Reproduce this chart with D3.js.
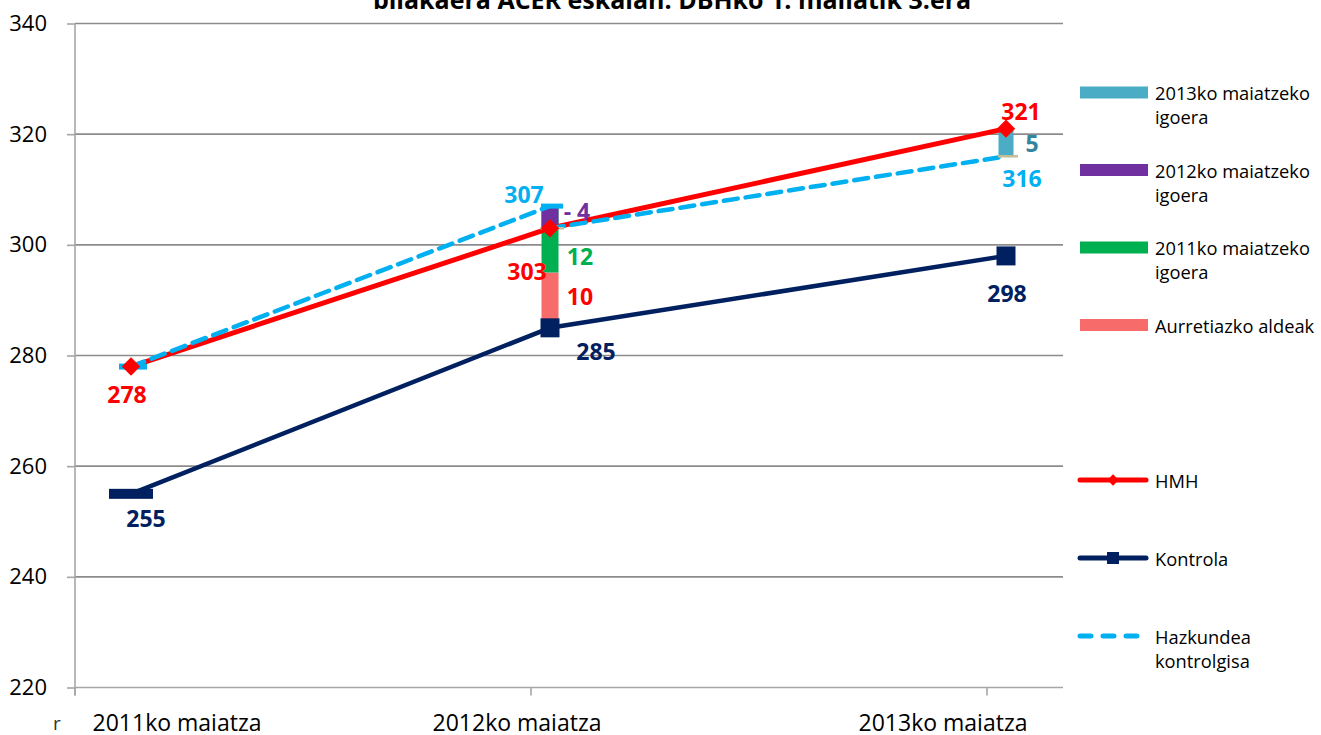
<!DOCTYPE html>
<html>
<head>
<meta charset="utf-8">
<script src="https://cdn.jsdelivr.net/npm/d3@7"></script>
<style>
  html, body { margin: 0; padding: 0; background: #fff; }
  svg { display: block; font-family: "Open Sans", "Liberation Sans", sans-serif; }
</style>
</head>
<body>
<svg id="chart" width="1321" height="735"></svg>
<script>
// categories and series
const categories = ["2011ko maiatza", "2012ko maiatza", "2013ko maiatza"];
const hmh = [278, 303, 321];
const kontrola = [255, 285, 298];
// control-like growth: two dashed pieces (from, to)
const growthFrom = [278, 303];
const growthTo = [307, 316];
// stacked increments
const aurretiazko = [null, 10, null];
const igoera2011 = [null, 12, null];
const igoera2012 = [null, -4, null];
const igoera2013 = [null, null, 5];
const yTicks = [220, 240, 260, 280, 300, 320, 340];

const titleText = "bilakaera ACER eskalan: DBHko 1. mailatik 3.era";

const colors = {
  hmh: "#FF0000",
  kontrola: "#002060",
  growth: "#00B0F0",
  aurretiazko: "#F86B6B",
  i2011: "#00B050",
  i2012: "#7030A0",
  i2013: "#4BACC6",
  i2013Label: "#31859C",
  grid: "#8C8C8C",
  axis: "#A6A6A6"
};

const svg = d3.select("#chart");
const plot = { left: 75, right: 1063, top: 23.5, bottom: 687.5 };

const y = d3.scaleLinear().domain([220, 340]).range([plot.bottom, plot.top]);
const xBand = d3.scaleBand().domain(categories).range([plot.left, plot.left + 456 * 3]);
const xMark = d3.scaleOrdinal().domain(categories).range([131, 550, 1006]);
const xLabel = d3.scaleOrdinal().domain(categories).range([177, 517, 943]);

// title (its upper part is cut off in the original)
svg.append("text")
  .attr("x", 672)
  .attr("y", 9)
  .attr("text-anchor", "middle")
  .attr("font-size", 25)
  .attr("font-weight", 700)
  .text(titleText);

// gridlines
svg.append("g")
  .selectAll("line")
  .data(yTicks.filter((d) => d > 220))
  .join("line")
  .attr("x1", plot.left)
  .attr("x2", plot.right)
  .attr("y1", (d) => y(d))
  .attr("y2", (d) => y(d))
  .attr("stroke", colors.grid)
  .attr("stroke-width", 1.6);

// y axis
svg.append("g")
  .attr("transform", `translate(${plot.left},0)`)
  .call(d3.axisLeft(y).tickValues(yTicks).tickSize(8).tickPadding(20))
  .call((g) => g.select(".domain").remove())
  .call((g) => g.selectAll("line").attr("stroke", colors.axis).attr("stroke-width", 1.6))
  .call((g) => g.selectAll("text").attr("font-size", 22).attr("fill", "#000")
    .attr("font-family", "'Open Sans', sans-serif"));

svg.append("line")
  .attr("x1", plot.left).attr("x2", plot.left)
  .attr("y1", plot.top).attr("y2", plot.bottom + 8)
  .attr("stroke", colors.axis).attr("stroke-width", 1.6);

// x axis line + boundary ticks
svg.append("line")
  .attr("x1", plot.left).attr("x2", plot.right)
  .attr("y1", plot.bottom).attr("y2", plot.bottom)
  .attr("stroke", colors.axis).attr("stroke-width", 1.6);

svg.append("g")
  .selectAll("line")
  .data(categories)
  .join("line")
  .attr("x1", (d) => xBand(d))
  .attr("x2", (d) => xBand(d))
  .attr("y1", plot.bottom)
  .attr("y2", plot.bottom + 8)
  .attr("stroke", colors.axis)
  .attr("stroke-width", 1.6);

svg.append("g")
  .selectAll("text")
  .data(categories)
  .join("text")
  .attr("x", (d) => xLabel(d))
  .attr("y", 731)
  .attr("text-anchor", "middle")
  .attr("font-size", 23)
  .attr("fill", "#000")
  .text((d) => d);

// stray glyph at bottom-left of the original
svg.append("text")
  .attr("x", 53)
  .attr("y", 730)
  .attr("font-size", 19)
  .attr("fill", "#333")
  .text("r");

// stacked bars
const barW = 17;
const stacks = [];
categories.forEach((c, i) => {
  if (aurretiazko[i] != null) {
    let base = kontrola[i];
    stacks.push({ c, from: base, to: base + aurretiazko[i], color: colors.aurretiazko });
    base += aurretiazko[i];
    stacks.push({ c, from: base, to: base + igoera2011[i], color: colors.i2011 });
    base += igoera2011[i];
    stacks.push({ c, from: base, to: base + igoera2012[i], color: colors.i2012 });
  }
  if (igoera2013[i] != null) {
    const base = growthTo[1];
    stacks.push({ c, from: base, to: base + igoera2013[i], color: colors.i2013, w: 15 });
  }
});

svg.append("g")
  .selectAll("rect")
  .data(stacks)
  .join("rect")
  .attr("x", (d) => xMark(d.c) - (d.w || barW) / 2)
  .attr("width", (d) => d.w || barW)
  .attr("y", (d) => y(Math.max(d.from, d.to)))
  .attr("height", (d) => Math.abs(y(d.from) - y(d.to)))
  .attr("fill", (d) => d.color);

// lines
const line = d3.line().x((d) => xMark(d.c)).y((d) => y(d.v));
const hmhPts = categories.map((c, i) => ({ c, v: hmh[i] }));
const konPts = categories.map((c, i) => ({ c, v: kontrola[i] }));

svg.append("path")
  .datum(hmhPts)
  .attr("d", line)
  .attr("fill", "none")
  .attr("stroke", colors.hmh)
  .attr("stroke-width", 5)
  .attr("stroke-linejoin", "round");

svg.append("path")
  .datum(konPts)
  .attr("d", line)
  .attr("fill", "none")
  .attr("stroke", colors.kontrola)
  .attr("stroke-width", 4.5)
  .attr("stroke-linejoin", "round");

const growthSegs = growthFrom.map((v, i) => [
  { c: categories[i], v },
  { c: categories[i + 1], v: growthTo[i] }
]);

svg.append("g")
  .selectAll("path")
  .data(growthSegs)
  .join("path")
  .attr("d", line)
  .attr("fill", "none")
  .attr("stroke", colors.growth)
  .attr("stroke-width", 4.5)
  .attr("stroke-dasharray", "14,8")
  .attr("stroke-linecap", "round");

// dash markers on the growth line
const dashMarks = [
  { c: categories[0], v: growthFrom[0], w: 28, color: colors.growth, sw: 6 },
  { c: categories[1], v: growthTo[0], w: 22, color: colors.growth, sw: 5 },
  { c: categories[1], v: growthFrom[1], w: 24, color: "#C4BD97", sw: 2.5 },
  { c: categories[2], v: growthTo[1], w: 20, color: "#C4BD97", sw: 2.5 }
];
svg.append("g")
  .selectAll("line")
  .data(dashMarks)
  .join("line")
  .attr("x1", (d) => xMark(d.c) - d.w / 2 + 2)
  .attr("x2", (d) => xMark(d.c) + d.w / 2 + 2)
  .attr("y1", (d) => y(d.v))
  .attr("y2", (d) => y(d.v))
  .attr("stroke", (d) => d.color)
  .attr("stroke-width", (d) => d.sw);

// HMH diamonds
svg.append("g")
  .selectAll("path")
  .data(hmhPts)
  .join("path")
  .attr("transform", (d) => `translate(${xMark(d.c)},${y(d.v)}) rotate(45)`)
  .attr("d", "M-6.5,-6.5H6.5V6.5H-6.5Z")
  .attr("fill", colors.hmh);

// Kontrola squares (first one drawn flat as in the original)
svg.append("g")
  .selectAll("rect")
  .data(konPts)
  .join("rect")
  .attr("x", (d, i) => xMark(d.c) - (i === 0 ? 22 : 9.5))
  .attr("y", (d, i) => y(d.v) - (i === 0 ? 5 : 9.5))
  .attr("width", (d, i) => (i === 0 ? 44 : 19))
  .attr("height", (d, i) => (i === 0 ? 10 : 19))
  .attr("fill", colors.kontrola);

// data labels (offsets from their mark)
const labels = [
  { c: categories[0], v: hmh[0], text: "278", dx: -4, dy: 36, color: colors.hmh },
  { c: categories[0], v: kontrola[0], text: "255", dx: 15, dy: 33, color: colors.kontrola },
  { c: categories[1], v: hmh[1], text: "303", dx: -23, dy: 52, color: colors.hmh },
  { c: categories[1], v: kontrola[1], text: "285", dx: 46, dy: 32, color: colors.kontrola },
  { c: categories[1], v: growthTo[0], text: "307", dx: -26, dy: -3, color: colors.growth },
  { c: categories[1], v: growthTo[0] + igoera2012[1] / 2, text: "- 4", dx: 27, dy: 3, color: colors.i2012 },
  { c: categories[1], v: kontrola[1] + aurretiazko[1] + igoera2011[1] / 2, text: "12", dx: 30, dy: 26, color: colors.i2011 },
  { c: categories[1], v: kontrola[1] + aurretiazko[1] / 2, text: "10", dx: 30, dy: 5, color: colors.hmh },
  { c: categories[2], v: hmh[2], text: "321", dx: 15, dy: -9, color: colors.hmh },
  { c: categories[2], v: growthTo[1] + igoera2013[2] / 2, text: "5", dx: 26, dy: 9.5, color: colors.i2013Label },
  { c: categories[2], v: growthTo[1], text: "316", dx: 16, dy: 31, color: colors.growth },
  { c: categories[2], v: kontrola[2], text: "298", dx: 1, dy: 46, color: colors.kontrola }
];

svg.append("g")
  .selectAll("text")
  .data(labels)
  .join("text")
  .attr("x", (d) => xMark(d.c) + d.dx)
  .attr("y", (d) => y(d.v) + d.dy)
  .attr("text-anchor", "middle")
  .attr("font-size", 23)
  .attr("font-weight", 700)
  .attr("fill", (d) => d.color)
  .text((d) => d.text);

// legend
const legendBars = [
  { lines: ["2013ko maiatzeko", "igoera"], color: colors.i2013, y: 92.5 },
  { lines: ["2012ko maiatzeko", "igoera"], color: colors.i2012, y: 170 },
  { lines: ["2011ko maiatzeko", "igoera"], color: colors.i2011, y: 247.5 },
  { lines: ["Aurretiazko aldeak"], color: colors.aurretiazko, y: 325 }
];
const legendLines = [
  { lines: ["HMH"], key: "hmh", y: 480 },
  { lines: ["Kontrola"], key: "kontrola", y: 558 },
  { lines: ["Hazkundea", "kontrolgisa"], key: "growth", y: 636 }
];

const lg = svg.append("g");
lg.selectAll("rect")
  .data(legendBars)
  .join("rect")
  .attr("x", 1080)
  .attr("y", (d) => d.y - 6)
  .attr("width", 68)
  .attr("height", 12)
  .attr("fill", (d) => d.color);

const allLegend = legendBars.concat(legendLines);
lg.selectAll("text.leg")
  .data(allLegend)
  .join("text")
  .attr("class", "leg")
  .attr("x", 1155)
  .attr("y", (d) => d.y + 7.5)
  .attr("font-size", 18.3)
  .attr("fill", "#000")
  .selectAll("tspan")
  .data((d) => d.lines)
  .join("tspan")
  .attr("x", 1155)
  .attr("dy", (d, i) => (i === 0 ? 0 : 24))
  .text((d) => d);

legendLines.forEach((d) => {
  const g = lg.append("g");
  g.append("line")
    .attr("x1", 1080).attr("x2", 1146)
    .attr("y1", d.y).attr("y2", d.y)
    .attr("stroke", colors[d.key])
    .attr("stroke-width", 5)
    .attr("stroke-linecap", "round")
    .attr("stroke-dasharray", d.key === "growth" ? "11,12" : null);
  if (d.key === "hmh") {
    g.append("path")
      .attr("transform", `translate(1113,${d.y}) rotate(45)`)
      .attr("d", "M-4,-4H4V4H-4Z")
      .attr("fill", colors.hmh);
  }
  if (d.key === "kontrola") {
    g.append("rect")
      .attr("x", 1107).attr("y", d.y - 6)
      .attr("width", 12).attr("height", 12)
      .attr("fill", colors.kontrola);
  }
});
</script>
</body>
</html>
